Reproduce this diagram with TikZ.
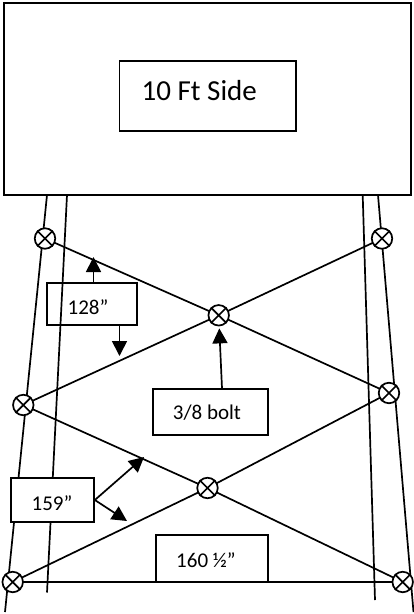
\documentclass[tikz,border=0pt]{standalone}
\usepackage{fontspec}
\setmainfont{Carlito}
\usetikzlibrary{arrows.meta}
\tikzset{
  line/.style={draw=black,line width=1.7pt},
  panel/.style={line,minimum width=#1,inner sep=0pt},
  caption/.style={inner sep=0pt,font=\fontsize{21}{23}\selectfont},
  bolt/.style={line,circle,fill=white,minimum size=20.5pt,inner sep=0pt},
  pointer/.style={line,-{Triangle[length=15pt,width=15pt]}},
}
\newcommand{\boltmark}[2]{%
  \node[bolt] (#1) at (#2) {};
  \draw[line] (#1.45) -- (#1.225) (#1.135) -- (#1.315);
}
\begin{document}
\begin{tikzpicture}[x=1pt,y=-1pt]
\useasboundingbox (0,0) rectangle (413,614);
% frame and title
\node[line,minimum width=406.5pt,minimum height=192pt,inner sep=0pt] (frame) at (207.5,99) {};
\node[line,minimum width=176.5pt,minimum height=70pt,inner sep=0pt] (title) at (207.75,96) {};
\node[font=\fontsize{29}{31}\selectfont,anchor=base west,inner sep=0pt] (titletext) at (141.5,100) {10 Ft Side};
% leg end points
\coordinate (olt) at (47,195); \coordinate (olb) at (5,612);
\coordinate (ilt) at (67,195); \coordinate (ilb) at (47,592.5);
\coordinate (irt) at (362.7,195); \coordinate (irb) at (375,600);
\coordinate (ort) at (378,195); \coordinate (orb) at (413.5,612);
\draw[line] (olt) -- (olb);
\draw[line] (ilt) -- (ilb);
\draw[line] (irt) -- (irb);
\draw[line] (ort) -- (orb);
% bolts
\coordinate (a) at (45,238.5); \coordinate (b) at (382,238.5);
\coordinate (c) at (218.7,315.3);
\coordinate (d) at (23.3,405); \coordinate (e) at (389,393);
\coordinate (f) at (207.5,488);
\coordinate (g) at (12.7,582); \coordinate (h) at (402.7,582);
\draw[line] (a) -- (c) -- (b);
\draw[line] (d) -- (c);
\draw[line] (c) -- (e);
\draw[line] (d) -- (f) -- (e);
\draw[line] (g) -- (f) -- (h);
\draw[line,line width=2pt] (g) -- (h);
\boltmark{A}{a}\boltmark{B}{b}\boltmark{C}{c}\boltmark{D}{d}
\boltmark{E}{e}\boltmark{F}{f}\boltmark{G}{g}\boltmark{H}{h}
% labels
\node[panel=90pt,minimum height=42.5pt] (l128) at (92,304) {};
\node[caption] (t128) at (88,307) {128”};
\node[panel=115pt,minimum height=46pt] (lbolt) at (210.5,412) {};
\node[caption] (tbolt) at (207,413) {3/8 bolt};
\node[panel=83pt,minimum height=44pt,fill=white] (l159) at (52.5,500) {};
\node[caption] (t159) at (52,503) {159”};
\node[panel=112pt,minimum height=47pt] (l160) at (212,558.5) {};
\node[caption] (t160) at (206,560) {160 ½”};
% arrows
\coordinate (up) at (93.5,257); \coordinate (down) at (119.5,356);
\coordinate (arr1) at (144,457); \coordinate (arr2) at (127,521);
\draw[pointer] (l128.north -| up) -- (up);
\draw[pointer] (l128.south -| down) -- (down);
\draw[pointer,shorten >=2pt] (lbolt.north -| 222,0) -- (C);
\draw[pointer] (l159.east) -- (arr1);
\draw[pointer] (l159.east) -- (arr2);
\end{tikzpicture}
\end{document}
